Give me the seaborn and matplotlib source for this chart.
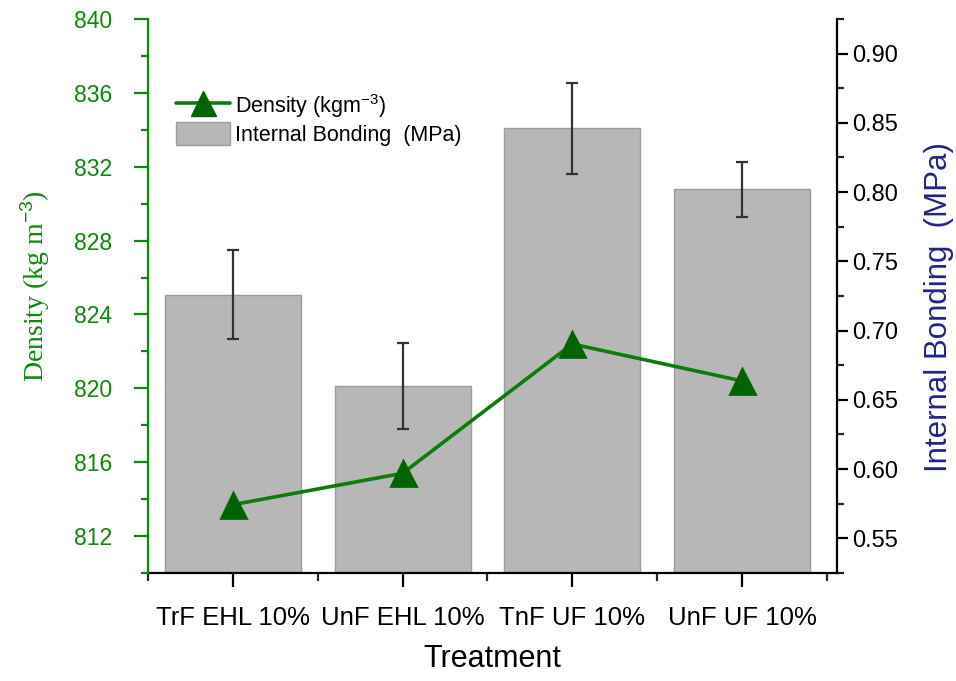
import numpy as np
import pandas as pd
import matplotlib
matplotlib.use("Agg")
import matplotlib.pyplot as plt
from matplotlib.lines import Line2D
from matplotlib.patches import Patch
from matplotlib.ticker import MultipleLocator, FixedLocator, FormatStrFormatter
import seaborn as sns

# Data
treatments = ["TrF EHL 10%", "UnF EHL 10%", "TnF UF 10%", "UnF UF 10%"]
internal_bonding = [0.726, 0.660, 0.846, 0.802]      # MPa
internal_bonding_err = [0.032, 0.031, 0.033, 0.020]  # MPa
density = [813.7, 815.4, 822.4, 820.4]               # kg m-3

df = pd.DataFrame({
    "treatment": treatments,
    "ib": internal_bonding,
    "ib_err": internal_bonding_err,
    "density": density,
})

sns.set_theme(style="ticks")
plt.rcParams["font.family"] = ["Liberation Sans", "DejaVu Sans"]
plt.rcParams["text.color"] = "black"
plt.rcParams["mathtext.fontset"] = "custom"
plt.rcParams["mathtext.rm"] = "Liberation Sans"
plt.rcParams["mathtext.it"] = "Liberation Sans:italic"

GREEN_AXIS = "#0a8a0a"
GREEN_LINE = "#0b7d0b"
GREEN_MARK = "#006400"
NAVY = "#23238c"
BAR = "#b7b7b7"

fig = plt.figure(figsize=(9.56, 6.81), dpi=100)
ax = fig.add_axes([0.155, 0.1586, 0.7205, 0.8135])
ax2 = ax.twinx()

# Internal bonding bars (right-hand scale)
sns.barplot(data=df, x="treatment", y="ib", color=BAR, edgecolor="#9c9c9c",
            linewidth=1.0, width=0.8, errorbar=None, saturation=1, ax=ax)
ax.errorbar(x=np.arange(len(df)), y=df["ib"], yerr=df["ib_err"], fmt="none",
            ecolor="#333333", elinewidth=1.6, capsize=4, capthick=1.6, zorder=3)

# Density line (left-hand scale)
sns.pointplot(data=df, x="treatment", y="density", color=GREEN_LINE,
              markers="^", linestyles="-", linewidth=2.6, markersize=18,
              errorbar=None, ax=ax2)
for ln in ax2.lines:
    ln.set_markerfacecolor(GREEN_MARK)
    ln.set_markeredgecolor(GREEN_MARK)
for coll in ax2.collections:
    coll.set_facecolor(GREEN_MARK)
    coll.set_edgecolor(GREEN_MARK)

# Right axis: internal bonding
ax.set_ylim(0.525, 0.925)
ax.set_xlim(-0.5, 3.56)
ax.yaxis.tick_right()
ax.yaxis.set_label_position("right")
ax.yaxis.set_major_locator(MultipleLocator(0.05))
ax.yaxis.set_minor_locator(MultipleLocator(0.025))
ax.yaxis.set_major_formatter(FormatStrFormatter("%.2f"))
ax.set_ylabel("Internal Bonding  (MPa)", color=NAVY, fontsize=22.5)
ax.yaxis.set_label_coords(1.126, 0.48)
ax.set_xlabel("Treatment", fontsize=22, labelpad=10, color="black")

ax.xaxis.set_minor_locator(FixedLocator([-0.5, 0.5, 1.5, 2.5, 3.5]))
ax.tick_params(axis="x", which="major", length=10, width=1.6, pad=14,
               labelsize=18.5, colors="black", direction="out")
ax.tick_params(axis="x", which="minor", length=6, width=1.6, direction="out")
ax.tick_params(axis="y", which="major", length=8, width=1.6, pad=3,
               labelsize=17, colors="black", direction="out")
ax.tick_params(axis="y", which="minor", length=5, width=1.6, direction="out")

for side in ["top", "left"]:
    ax.spines[side].set_visible(False)
for side in ["bottom", "right"]:
    ax.spines[side].set_color("black")
    ax.spines[side].set_linewidth(1.6)

# Left axis: density
ax2.set_xlim(-0.5, 3.56)
ax2.set_ylim(810, 840)
ax2.yaxis.tick_left()
ax2.yaxis.set_label_position("left")
ax2.yaxis.set_major_locator(MultipleLocator(4))
ax2.yaxis.set_minor_locator(FixedLocator(np.arange(810, 841, 4)))
ax2.tick_params(axis="y", which="major", length=10, width=1.6, pad=16,
                labelsize=16.5, colors=GREEN_AXIS, direction="out")
ax2.tick_params(axis="y", which="minor", length=5, width=1.6, colors=GREEN_AXIS,
                direction="out")
ax2.set_ylabel("Density (kg m$^{-3}$)", color=GREEN_AXIS, fontsize=20)
ax2.yaxis.label.set_fontfamily(["Liberation Serif", "DejaVu Serif"])
ax2.yaxis.set_label_coords(-0.14, 0.518)
ax2.set_xlabel("")
ax2.tick_params(axis="x", which="both", bottom=False, top=False,
                labelbottom=False, labeltop=False)
for side in ["top", "right", "bottom"]:
    ax2.spines[side].set_visible(False)
ax2.spines["left"].set_color(GREEN_AXIS)
ax2.spines["left"].set_linewidth(1.6)

handles = [
    Line2D([], [], color=GREEN_LINE, lw=2.6, marker="^", markersize=18,
           markerfacecolor=GREEN_MARK, markeredgecolor=GREEN_MARK),
    Patch(facecolor=BAR, edgecolor="#9c9c9c"),
]
leg = ax2.legend(handles, ["Density (kgm$^{-3}$)", "Internal Bonding  (MPa)"],
                 loc="upper left", bbox_to_anchor=(0.028, 0.884), frameon=False,
                 fontsize=15.5, handlelength=2.5, handleheight=1.25,
                 handletextpad=0.25, labelspacing=0.1, borderaxespad=0)
for t in leg.get_texts():
    t.set_color("black")

fig.savefig("out.png", dpi=100)
